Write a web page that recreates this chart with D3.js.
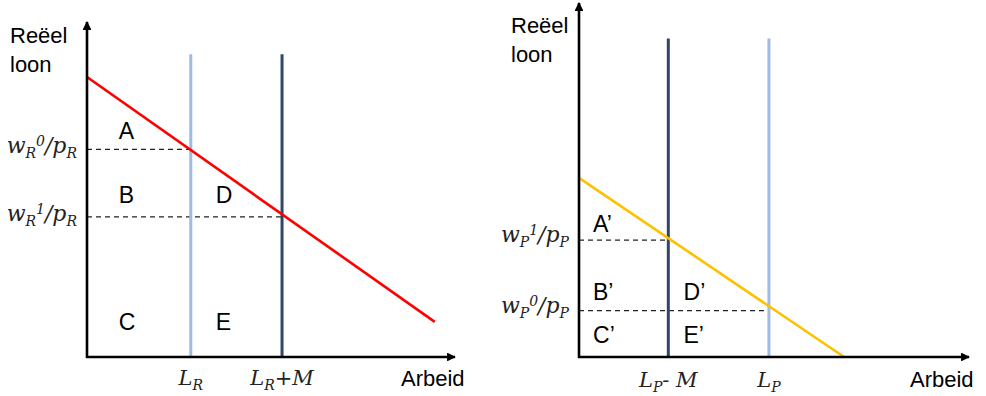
<!DOCTYPE html>
<html lang="nl">
<head>
  <meta charset="UTF-8">
  <title>Reëel loon vs Arbeid</title>
  <script src="https://d3js.org/d3.v7.min.js"></script>
  <style>
    body { margin: 0; background: #fff; }
    svg { display: block; }
    .sans { font-family: "Liberation Sans", Arial, sans-serif; fill: #000; }
    .math { font-family: "DejaVu Serif", "Liberation Serif", serif; font-style: italic; fill: #222; }
  </style>
</head>
<body>
<div id="chart"></div>
<script>
  // data, in axis units 0..100 per panel
  // left panel (R)
  const leftVerticals = [
    {x: 28.2, top: 90.4, color: "#9dbbe3", label: ["L", "R", ""]},
    {x: 53.0, top: 90.4, color: "#2f4668", label: ["L", "R", "+M"]}
  ];
  const leftCurve = [{x: 0, y: 83.6}, {x: 94.5, y: 10.5}];
  const leftWages = [
    {y: 62.0, xEnd: 28.2, sub: "R", sup: "0"},
    {y: 41.8, xEnd: 53.0, sub: "R", sup: "1"}
  ];
  const leftAreas = [
    {t: "A", x: 8.6, y: 65.2}, {t: "B", x: 8.6, y: 45.9}, {t: "D", x: 35.0, y: 45.9},
    {t: "C", x: 8.6, y: 8.1}, {t: "E", x: 35.0, y: 8.1}
  ];

  // right panel (P)
  const rightVerticals = [
    {x: 22.9, top: 90.0, color: "#2f4668", label: ["L", "P", "- M"]},
    {x: 48.7, top: 90.0, color: "#9dbbe3", label: ["L", "P", ""]}
  ];
  const rightCurve = [{x: 0, y: 50.6}, {x: 68.0, y: 0}];
  const rightWages = [
    {y: 33.0, xEnd: 22.9, sub: "P", sup: "1"},
    {y: 13.1, xEnd: 48.7, sub: "P", sup: "0"}
  ];
  const rightAreas = [
    {t: "A’", x: 3.6, y: 35.2}, {t: "B’", x: 3.6, y: 16.2}, {t: "C’", x: 3.6, y: 4.0},
    {t: "D’", x: 26.8, y: 16.2}, {t: "E’", x: 26.8, y: 4.0}
  ];

  const svg = d3.select("#chart").append("svg")
    .attr("width", 986).attr("height", 396);

  const defs = svg.append("defs");
  defs.append("marker")
    .attr("id", "arrow")
    .attr("viewBox", "0 0 10 10")
    .attr("refX", 9).attr("refY", 5)
    .attr("markerWidth", 4.2).attr("markerHeight", 3.4)
    .attr("markerUnits", "strokeWidth")
    .attr("orient", "auto")
    .append("path").attr("d", "M0,0 L10,5 L0,10 z").attr("fill", "#000");

  function mathLabel(sel, main, sub, sup, tail, tailSub) {
    sel.append("tspan").text(main);
    sel.append("tspan").attr("dy", 5).attr("font-size", 14).text(sub);
    if (sup) sel.append("tspan").attr("dy", -12).attr("font-size", 14).text(sup);
    if (tail) {
      sel.append("tspan").attr("dy", sup ? 7 : -5).text(tail);
      sel.append("tspan").attr("dy", 5).attr("font-size", 14).text(tailSub);
    }
  }

  function drawPanel(cfg) {
    const x = d3.scaleLinear().domain([0, 100]).range(cfg.xRange);
    const y = d3.scaleLinear().domain([0, 100]).range(cfg.yRange);
    const g = svg.append("g");

    // dashed wage levels
    g.selectAll(".wage").data(cfg.wages).enter().append("line")
      .attr("x1", x(0)).attr("x2", d => x(d.xEnd))
      .attr("y1", d => y(d.y)).attr("y2", d => y(d.y))
      .attr("stroke", "#222").attr("stroke-width", 1.2)
      .attr("stroke-dasharray", "5,4");

    // vertical labour supply lines
    g.selectAll(".vert").data(cfg.verticals).enter().append("line")
      .attr("x1", d => x(d.x)).attr("x2", d => x(d.x))
      .attr("y1", y(0)).attr("y2", d => y(d.top))
      .attr("stroke", d => d.color).attr("stroke-width", 3);

    // demand curve
    g.append("path").datum(cfg.curve)
      .attr("d", d3.line().x(d => x(d.x)).y(d => y(d.y)))
      .attr("fill", "none").attr("stroke", cfg.curveColor).attr("stroke-width", 2.6);

    // axes
    g.append("line")
      .attr("x1", x(0)).attr("x2", x(0)).attr("y1", y(0) + 1).attr("y2", y(100))
      .attr("stroke", "#000").attr("stroke-width", 2.6).attr("marker-end", "url(#arrow)");
    g.append("line")
      .attr("x1", x(0) - 1).attr("x2", x(100)).attr("y1", y(0)).attr("y2", y(0))
      .attr("stroke", "#000").attr("stroke-width", 2.6).attr("marker-end", "url(#arrow)");

    // area letters
    g.selectAll(".area").data(cfg.areas).enter().append("text")
      .attr("class", "sans").attr("font-size", 23)
      .attr("x", d => x(d.x)).attr("y", d => y(d.y))
      .text(d => d.t);

    // y labels
    g.selectAll(".wlab").data(cfg.wages).enter().append("text")
      .attr("class", "math").attr("font-size", 22)
      .attr("text-anchor", "end")
      .attr("x", x(0) - 10).attr("y", d => y(d.y) + cfg.wageDy)
      .each(function(d) { mathLabel(d3.select(this), "w", d.sub, d.sup, "/p", d.sub); });

    // x labels
    g.selectAll(".llab").data(cfg.verticals).enter().append("text")
      .attr("class", "math").attr("font-size", 21)
      .attr("text-anchor", "middle")
      .attr("x", d => x(d.x)).attr("y", cfg.xLabelY)
      .each(function(d) {
        const t = d3.select(this);
        t.append("tspan").text(d.label[0]);
        t.append("tspan").attr("dy", 5).attr("font-size", 14).text(d.label[1]);
        if (d.label[2]) t.append("tspan").attr("dy", -5).text(d.label[2]);
      });

    // axis titles
    const yt = g.append("text").attr("class", "sans").attr("font-size", 22)
      .attr("x", cfg.yTitle[0]).attr("y", cfg.yTitle[1]);
    yt.append("tspan").text("Reëel");
    yt.append("tspan").attr("x", cfg.yTitle[0]).attr("dy", 29).text("loon");
    g.append("text").attr("class", "sans").attr("font-size", 22)
      .attr("x", cfg.xTitle[0]).attr("y", cfg.xTitle[1]).text("Arbeid");
  }

  drawPanel({
    xRange: [87, 455], yRange: [357, 22],
    verticals: leftVerticals, curve: leftCurve, curveColor: "#ff0000",
    wages: leftWages, areas: leftAreas, wageDy: 4, xLabelY: 385,
    yTitle: [10, 43], xTitle: [401, 386]
  });

  drawPanel({
    xRange: [579, 969], yRange: [357, 3],
    verticals: rightVerticals, curve: rightCurve, curveColor: "#ffc000",
    wages: rightWages, areas: rightAreas, wageDy: 2, xLabelY: 387,
    yTitle: [511, 33], xTitle: [910, 387]
  });
</script>
</body>
</html>
